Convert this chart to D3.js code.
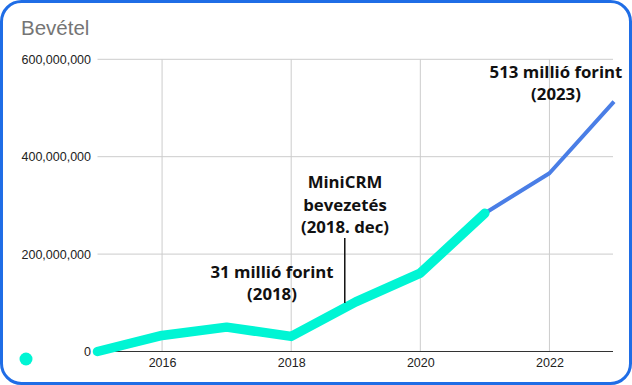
<!DOCTYPE html>
<html><head><meta charset="utf-8">
<script src="https://cdn.jsdelivr.net/npm/d3@7"></script>
<style>body{margin:0;background:#fff}svg{display:block}</style>
</head><body>
<svg id="c" width="632" height="385"></svg>
<script>
const years = [2015, 2016, 2017, 2018, 2019, 2020, 2021, 2022, 2023];
const revenue = [0, 33000000, 50000000, 31000000, 102000000, 161000000, 284000000, 366000000, 513000000];
const highlightEnd = 2021;
const yTicks = [0, 200000000, 400000000, 600000000];
const xTicks = [2016, 2018, 2020, 2022];
const title = "Bevétel";
const annotations = [
  {x: 2018, y: 31000000, lines: ["31 millió forint", "(2018)"]},
  {x: 2018.83, y: 100000000, lines: ["MiniCRM", "bevezetés", "(2018. dec)"]},
  {x: 2023, y: 513000000, lines: ["513 millió forint", "(2023)"]}
];

const svg = d3.select("#c");
const W = 632, H = 385;
svg.append("rect").attr("x",1.5).attr("y",1.5).attr("width",W-3).attr("height",H-3)
  .attr("rx",20).attr("fill","#fff").attr("stroke","#1f6de6").attr("stroke-width",3);

const x = d3.scaleLinear().domain([2015, 2023]).range([97.5, 614]);
const y = d3.scaleLinear().domain([0, 600000000]).range([351.5, 59.3]);

svg.append("text").attr("x",21).attr("y",35).text(title)
  .attr("font-family","Liberation Sans, Arial, sans-serif").attr("font-size",20.5).attr("fill","#757575");

// grid
const g = svg.append("g");
g.selectAll(".hg").data(yTicks.filter(d=>d>0)).join("line")
  .attr("x1",97.5).attr("x2",613).attr("y1",d=>y(d)).attr("y2",d=>y(d))
  .attr("stroke","#cccccc").attr("stroke-width",1);
g.selectAll(".vg").data(xTicks).join("line")
  .attr("x1",d=>x(d)).attr("x2",d=>x(d)).attr("y1",y(600000000)).attr("y2",y(0))
  .attr("stroke","#cccccc").attr("stroke-width",1);

// y labels
const yAxis = d3.axisLeft(y).tickValues(yTicks).tickSize(0).tickPadding(0)
  .tickFormat(d3.format(","));
const ya = svg.append("g").attr("transform","translate(91,0)").call(yAxis);
ya.select(".domain").remove();
ya.selectAll("text").attr("font-family","Liberation Sans, Arial, sans-serif").attr("font-size",12.5).attr("fill","#222");

// x labels
const xAxis = d3.axisBottom(x).tickValues(xTicks).tickSize(0).tickPadding(0).tickFormat(d3.format("d"));
const xa = svg.append("g").attr("transform","translate(0,358)").call(xAxis);
xa.select(".domain").remove();
xa.selectAll("text").attr("font-family","Liberation Sans, Arial, sans-serif").attr("font-size",12.5).attr("fill","#222");

// zero axis
svg.append("line").attr("x1",97.5).attr("x2",613).attr("y1",y(0)).attr("y2",y(0))
  .attr("stroke","#333").attr("stroke-width",1.2);

const data = years.map((yr,i)=>({yr, v: revenue[i]}));
const line = d3.line().x(d=>x(d.yr)).y(d=>y(d.v));

svg.append("path").datum(data.filter(d=>d.yr>=highlightEnd)).attr("d",line)
  .attr("fill","none").attr("stroke","#4a7ee6").attr("stroke-width",4).attr("stroke-linejoin","round");
svg.append("path").datum(data.filter(d=>d.yr<=highlightEnd)).attr("d",line)
  .attr("fill","none").attr("stroke","#00f5d4").attr("stroke-width",9.5)
  .attr("stroke-linecap","round").attr("stroke-linejoin","round");

// legend dot
svg.append("circle").attr("cx",26).attr("cy",359).attr("r",6.5).attr("fill","#00f5d4");

// annotations
const af = "Open Sans, Lato, sans-serif";
svg.append("line").attr("x1",x(annotations[1].x)).attr("x2",x(annotations[1].x))
  .attr("y1",238).attr("y2",303).attr("stroke","#111").attr("stroke-width",1.5);

const annPos = [
  {cx: 272, y0: 278, dy: 22},
  {cx: 345, y0: 188, dy: 22.5},
  {cx: 556, y0: 78, dy: 22}
];
annotations.forEach((a,i)=>{
  const p = annPos[i];
  const t = svg.append("text").attr("text-anchor","middle").attr("font-family",af)
    .attr("font-weight",700).attr("font-size",16.8).attr("fill","#111");
  a.lines.forEach((l,j)=>t.append("tspan").attr("x",p.cx).attr("y",p.y0+j*p.dy).text(l));
});
</script>
</body></html>
